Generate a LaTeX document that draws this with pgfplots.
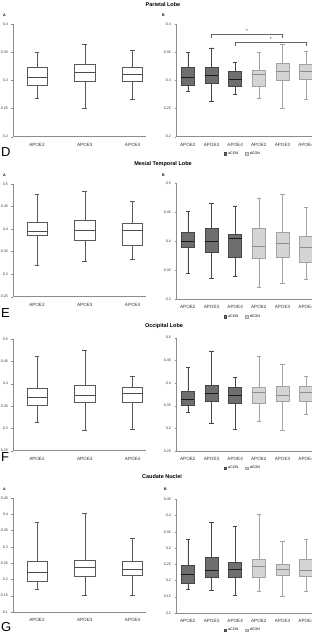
\documentclass[border=0pt]{standalone}
\usepackage{pgfplots}
\pgfplotsset{compat=1.18}
\usepgfplotslibrary{statistics}
\usepackage{fontspec}
\setmainfont{Liberation Sans}
\definecolor{axisgray}{HTML}{8C8C8C}
\definecolor{darkfill}{HTML}{6E6E6E}
\definecolor{darkdraw}{HTML}{474747}
\definecolor{lightfill}{HTML}{D4D4D4}
\definecolor{lightdraw}{HTML}{A3A3A3}
\newcommand{\tkf}{\fontsize{3.6}{4}\selectfont}
\newcommand{\xkf}{\fontsize{4.6}{5}\selectfont}
\pgfplotsset{
  base/.style={scale only axis, anchor=south west, clip=false,
    axis x line*=bottom, axis y line*=left,
    axis line style={axisgray, line width=0.4pt},
    ytick style={axisgray, line width=0.35pt}, xtick style={draw=none},
    major tick length=1.5pt, tick align=outside,
    boxplot/draw direction=y,
    /pgf/number format/assume math mode=true,
    y tick label style={font=\tkf, color=black!80, /pgf/number format/fixed, /pgf/number format/precision=2},
    x tick label style={font=\xkf, color=black!80, yshift=-1.2pt}},
  leftp/.style={base, width=133pt, xmin=-0.5, xmax=2.28, xtick={0,1,2},
    xticklabels={APOE2,APOE3,APOE4},
    boxplot/box extend=0.42, boxplot/whisker extend=0.1},
  rightp/.style={base, width=142pt, xmin=-0.5, xmax=5.5, xtick={0,1,2,3,4,5},
    xticklabels={APOE2,APOE3,APOE4,APOE2,APOE3,APOE4},
    boxplot/box extend=0.55, boxplot/whisker extend=0.17,
    legend style={at={(axis description cs:0.47,-0.15)}, anchor=center, draw=none, fill=none,
      legend columns=2, font=\fontsize{3.6}{4}\selectfont, inner sep=0pt,
      /tikz/every even column/.append style={column sep=5pt}},
    legend cell align=left},
  wbox/.style={draw=black!65, fill=white, line width=0.45pt,
    boxplot/every median/.style={draw=black!70, line width=0.55pt}},
  dbox/.style={draw=darkdraw, fill=darkfill, line width=0.45pt,
    boxplot/every median/.style={draw=black!90, line width=0.6pt}},
  lbox/.style={draw=lightdraw, fill=lightfill, line width=0.45pt,
    boxplot/every median/.style={draw=black!45, line width=0.6pt}},
}
\newcommand{\bx}[7]{\addplot[#1, boxplot prepared={draw position=#2, lower whisker=#3, lower quartile=#4, median=#5, upper quartile=#6, upper whisker=#7}, boxplot/draw direction=y] coordinates {};}
\newcommand{\legimg}{%
  \addlegendimage{legend image code/.code={\draw[fill=darkfill,draw=darkdraw,line width=0.3pt] (0pt,-1.2pt) rectangle (2.4pt,1.2pt);}}\addlegendentry{aCON}%
  \addlegendimage{legend image code/.code={\draw[fill=lightfill,draw=lightdraw,line width=0.3pt] (0pt,-1.2pt) rectangle (2.4pt,1.2pt);}}\addlegendentry{dCON}}
\begin{document}
\begin{tikzpicture}
% ---------- titles and labels ----------
\tikzset{ttl/.style={font=\bfseries\fontsize{5.5}{6}\selectfont, inner sep=0pt},
  pl/.style={font=\bfseries\fontsize{3.6}{4}\selectfont, inner sep=0pt, anchor=west},
  rl/.style={font=\fontsize{13}{14}\selectfont, inner sep=0pt, anchor=west}}
\node[ttl] at (163pt,634pt) {Parietal Lobe};
\node[ttl] at (163pt,475pt) {Mesial Temporal Lobe};
\node[ttl] at (164pt,313pt) {Occipital Lobe};
\node[ttl] at (162pt,162pt) {Caudate Nuclei};
\node[pl] at (3pt,624pt) {A}; \node[pl] at (162pt,624pt) {B};
\node[pl] at (3pt,464pt) {A}; \node[pl] at (162pt,464pt) {B};
\node[pl] at (3pt,150pt) {A}; \node[pl] at (164pt,150pt) {B};
\node[rl] at (1pt,487pt) {D};
\node[rl] at (1pt,326pt) {E};
\node[rl] at (1pt,182pt) {F};
\node[rl] at (1pt,12pt) {G};

% ---------- Row 1: Parietal ----------
\begin{axis}[leftp, at={(13pt,502.3pt)}, height=112.7pt, ymin=0.2, ymax=0.4,
  ytick={0.2,0.25,0.3,0.35,0.4}]
\bx{wbox}{0}{0.269}{0.292}{0.305}{0.323}{0.350}
\bx{wbox}{1}{0.250}{0.299}{0.315}{0.328}{0.364}
\bx{wbox}{2}{0.267}{0.299}{0.311}{0.324}{0.353}
\end{axis}
\begin{axis}[rightp, at={(176pt,502.3pt)}, height=112.3pt, ymin=0.2, ymax=0.4,
  ytick={0.2,0.25,0.3,0.35,0.4}]
\legimg
\bx{dbox}{0}{0.281}{0.292}{0.305}{0.323}{0.350}
\bx{dbox}{1}{0.264}{0.295}{0.310}{0.323}{0.358}
\bx{dbox}{2}{0.275}{0.289}{0.303}{0.316}{0.333}
\bx{lbox}{3}{0.269}{0.290}{0.311}{0.319}{0.350}
\bx{lbox}{4}{0.250}{0.301}{0.317}{0.331}{0.364}
\bx{lbox}{5}{0.266}{0.302}{0.316}{0.329}{0.353}
\draw[black!60, line width=0.4pt] (axis cs:1,0.376) |- (axis cs:4,0.382) -- (axis cs:4,0.376);
\draw[black!60, line width=0.4pt] (axis cs:2,0.3615) |- (axis cs:5,0.3675) -- (axis cs:5,0.3615);
\node[font=\fontsize{4.5}{5}\selectfont, inner sep=0pt] at (axis cs:2.5,0.3885) {*};
\node[font=\fontsize{4.5}{5}\selectfont, inner sep=0pt] at (axis cs:3.5,0.3745) {*};
\end{axis}

% ---------- Row 2: Mesial Temporal ----------
\begin{axis}[leftp, at={(13pt,342.3pt)}, height=112.7pt, ymin=0.25, ymax=0.5,
  ytick={0.25,0.3,0.35,0.4,0.45,0.5}]
\bx{wbox}{0}{0.319}{0.386}{0.396}{0.416}{0.478}
\bx{wbox}{1}{0.328}{0.376}{0.397}{0.419}{0.483}
\bx{wbox}{2}{0.334}{0.365}{0.397}{0.413}{0.462}
\end{axis}
\begin{axis}[rightp, at={(176pt,339.7pt)}, height=116pt, ymin=0.3, ymax=0.5,
  ytick={0.3,0.35,0.4,0.45,0.5}]
\legimg
\bx{dbox}{0}{0.345}{0.390}{0.400}{0.416}{0.452}
\bx{dbox}{1}{0.336}{0.382}{0.400}{0.422}{0.466}
\bx{dbox}{2}{0.339}{0.372}{0.405}{0.413}{0.461}
\bx{lbox}{3}{0.321}{0.371}{0.391}{0.422}{0.475}
\bx{lbox}{4}{0.328}{0.372}{0.396}{0.416}{0.482}
\bx{lbox}{5}{0.335}{0.364}{0.390}{0.409}{0.458}
\end{axis}

% ---------- Row 3: Occipital ----------
\begin{axis}[leftp, at={(13pt,188.3pt)}, height=111.7pt, ymin=0.25, ymax=0.5,
  ytick={0.25,0.3,0.35,0.4,0.45,0.5}]
\bx{wbox}{0}{0.314}{0.352}{0.370}{0.389}{0.462}
\bx{wbox}{1}{0.296}{0.358}{0.375}{0.396}{0.474}
\bx{wbox}{2}{0.298}{0.358}{0.378}{0.391}{0.416}
\end{axis}
\begin{axis}[rightp, at={(176pt,188pt)}, height=113.3pt, ymin=0.25, ymax=0.5,
  ytick={0.25,0.3,0.35,0.4,0.45,0.5}]
\legimg
\bx{dbox}{0}{0.335}{0.351}{0.365}{0.381}{0.435}
\bx{dbox}{1}{0.312}{0.360}{0.377}{0.396}{0.471}
\bx{dbox}{2}{0.298}{0.356}{0.373}{0.390}{0.412}
\bx{lbox}{3}{0.315}{0.356}{0.380}{0.390}{0.460}
\bx{lbox}{4}{0.296}{0.359}{0.373}{0.393}{0.442}
\bx{lbox}{5}{0.332}{0.360}{0.380}{0.392}{0.414}
\end{axis}

% ---------- Row 4: Caudate ----------
\begin{axis}[leftp, at={(13pt,27pt)}, height=114pt, ymin=0.1, ymax=0.45,
  ytick={0.1,0.15,0.2,0.25,0.3,0.35,0.4,0.45}]
\bx{wbox}{0}{0.169}{0.193}{0.222}{0.257}{0.377}
\bx{wbox}{1}{0.152}{0.210}{0.237}{0.259}{0.404}
\bx{wbox}{2}{0.151}{0.212}{0.232}{0.257}{0.327}
\end{axis}
\begin{axis}[rightp, at={(176pt,26pt)}, height=113.7pt, ymin=0.1, ymax=0.45,
  ytick={0.1,0.15,0.2,0.25,0.3,0.35,0.4,0.45}]
\legimg
\bx{dbox}{0}{0.172}{0.191}{0.218}{0.246}{0.326}
\bx{dbox}{1}{0.170}{0.210}{0.232}{0.271}{0.378}
\bx{dbox}{2}{0.155}{0.210}{0.235}{0.255}{0.367}
\bx{lbox}{3}{0.166}{0.211}{0.244}{0.264}{0.405}
\bx{lbox}{4}{0.153}{0.216}{0.235}{0.251}{0.321}
\bx{lbox}{5}{0.166}{0.213}{0.230}{0.266}{0.328}
\end{axis}

\pgfresetboundingbox
\path[use as bounding box] (0pt,0pt) rectangle (312pt,639pt);
\end{tikzpicture}
\end{document}
